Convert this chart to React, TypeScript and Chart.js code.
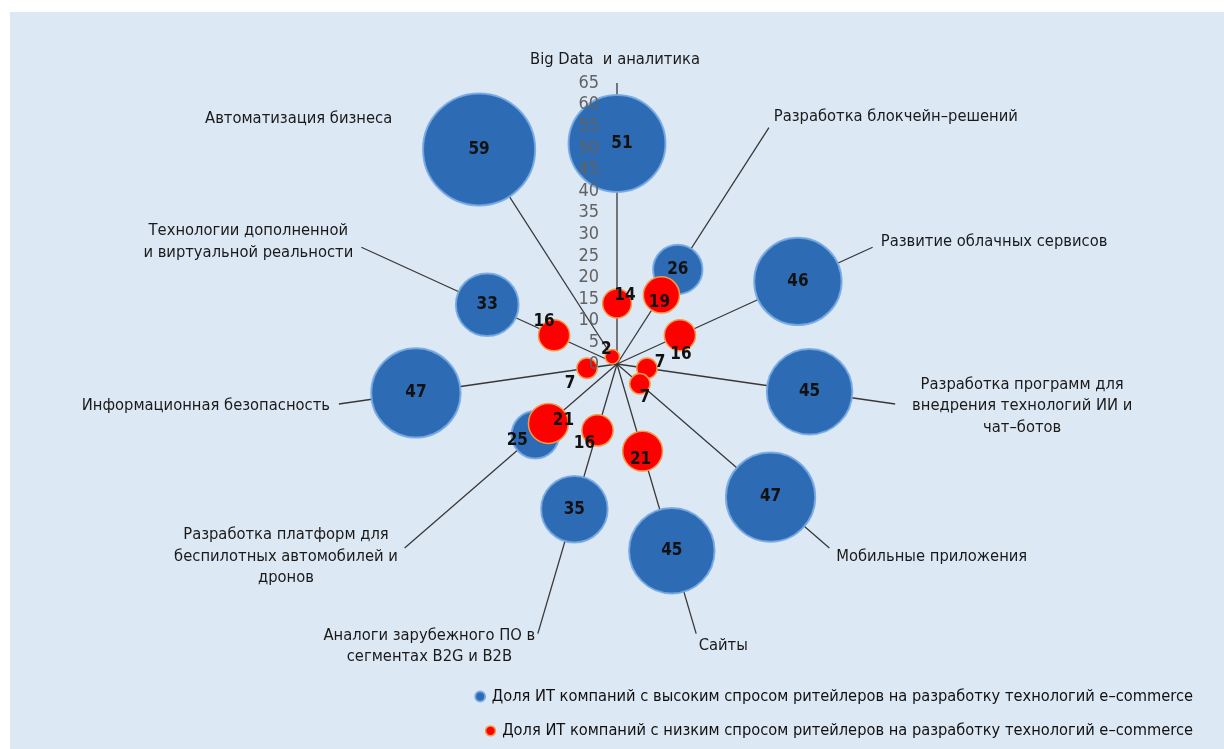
import { useEffect, useRef } from 'react';
import { Chart, registerables } from 'chart.js';

Chart.register(...registerables);

// Categories, clockwise from the top spoke
const CATEGORIES: string[][] = [
  ['Big Data  и аналитика'],
  ['Разработка блокчейн–решений'],
  ['Развитие облачных сервисов'],
  ['Разработка программ для', 'внедрения технологий ИИ и', 'чат–ботов'],
  ['Мобильные приложения'],
  ['Сайты'],
  ['Аналоги зарубежного ПО в', 'сегментах B2G и B2B'],
  ['Разработка платформ для', 'беспилотных автомобилей и', 'дронов'],
  ['Информационная безопасность'],
  ['Технологии дополненной', 'и виртуальной реальности'],
  ['Автоматизация бизнеса'],
];

const HIGH_DEMAND = [51, 26, 46, 45, 47, 45, 35, 25, 47, 33, 59];
const LOW_DEMAND = [14, 19, 16, 7, 7, 21, 16, 21, 7, 16, 2];

const SERIES_NAMES = [
  'Доля ИТ компаний с высоким спросом ритейлеров на разработку технологий e–commerce',
  'Доля ИТ компаний с низким спросом ритейлеров на разработку технологий e–commerce',
];

const AXIS_MIN = 0;
const AXIS_MAX = 65;
const AXIS_STEP = 5;

// Styling
const FONT = "'Liberation Sans Narrow', 'Arial Narrow', 'DejaVu Sans Condensed', sans-serif";
const BLUE = '#2d6cb5';
const BLUE_EDGE = 'rgba(118, 168, 226, 0.9)';
const RED = '#ff0000';
const RED_EDGE = '#f29a48';

// value-label offsets (px) per series and category
const HIGH_LABEL_SHIFT: [number, number][] = [
  [5, 0], [0, 0], [0, 0], [0, 0], [0, 0], [0, 0], [0, 0], [-18, 6], [0, 0], [0, 0], [0, 0],
];
const LOW_LABEL_SHIFT: [number, number][] = [
  [8, -8], [-2, 8], [1, 19], [13, -6], [5, 14], [-2, 8], [-13, 13], [15, -3], [-17, 15], [-10, -14], [-6, -7],
];
// extra nudges for the category captions (px)
const CAPTION_NUDGE: [number, number][] = [
  [-2, -10], [0, 0], [0, 0], [8, 0], [0, 0], [0, 0], [0, 0], [0, 0], [0, 0], [0, 0], [-68, 2],
];

const bubbleRadius = (v: number) => Math.max(v * 0.95, 6 + v * 0.6);

const tickLabelsPlugin = {
  id: 'axisTickLabels',
  afterDatasetsDraw(chart: any) {
    const scale = chart.scales.r;
    const ctx = chart.ctx;
    ctx.save();
    ctx.font = `18px ${FONT}`;
    ctx.fillStyle = '#626262';
    ctx.textAlign = 'right';
    ctx.textBaseline = 'middle';
    scale.ticks.forEach((t: any) => {
      const p = scale.getPointPosition(0, scale.getDistanceFromCenterForValue(t.value));
      ctx.fillText(String(t.value), p.x - 18, p.y);
    });
    ctx.restore();
  },
};

const valueLabelsPlugin = {
  id: 'bubbleValueLabels',
  afterDatasetsDraw(chart: any) {
    const ctx = chart.ctx;
    const shifts = [HIGH_LABEL_SHIFT, LOW_LABEL_SHIFT];
    ctx.save();
    ctx.font = `bold 17px ${FONT}`;
    ctx.fillStyle = '#111111';
    ctx.textAlign = 'center';
    ctx.textBaseline = 'middle';
    chart.data.datasets.forEach((ds: any, di: number) => {
      const meta = chart.getDatasetMeta(di);
      meta.data.forEach((pt: any, i: number) => {
        const [dx, dy] = shifts[di][i];
        ctx.fillText(String(ds.data[i]), pt.x + dx, pt.y + dy);
      });
    });
    ctx.restore();
  },
};

const captionsPlugin = {
  id: 'categoryCaptions',
  afterDraw(chart: any) {
    const scale = chart.scales.r;
    const ctx = chart.ctx;
    const outer = scale.getDistanceFromCenterForValue(scale.max);
    const lineH = 21.5;
    ctx.save();
    ctx.font = `16.4px ${FONT}`;
    ctx.fillStyle = '#1a1a1a';
    ctx.textAlign = 'center';
    ctx.textBaseline = 'middle';
    CATEGORIES.forEach((lines, i) => {
      const p = scale.getPointPosition(i, outer);
      const a = scale.getIndexAngle(i);
      const s = Math.sin(a);
      const c = Math.cos(a);
      const [nx, ny] = CAPTION_NUDGE[i];
      const w = Math.max(...lines.map((l) => ctx.measureText(l).width));
      const h = lines.length * lineH;
      const ax = p.x + s * 9 + nx;
      const cy = p.y - c * 13 + ny;
      let cx = ax;
      if (s > 1e-6) cx = ax + w / 2;
      else if (s < -1e-6) cx = ax - w / 2;
      lines.forEach((l, k) => ctx.fillText(l, cx, cy - h / 2 + lineH * (k + 0.5)));
    });
    ctx.restore();
  },
};

export default function App() {
  const canvasRef = useRef<HTMLCanvasElement | null>(null);

  useEffect(() => {
    if (!canvasRef.current) return;
    const chart = new Chart(canvasRef.current, {
      type: 'radar',
      data: {
        labels: CATEGORIES,
        datasets: [
          {
            label: SERIES_NAMES[0],
            data: HIGH_DEMAND,
            showLine: false,
            fill: false,
            backgroundColor: BLUE,
            borderColor: BLUE,
            pointBackgroundColor: BLUE,
            pointBorderColor: BLUE_EDGE,
            pointBorderWidth: 2,
            pointRadius: (c: any) => bubbleRadius(c.raw ?? 0),
            pointHoverRadius: (c: any) => bubbleRadius(c.raw ?? 0),
            order: 2,
          },
          {
            label: SERIES_NAMES[1],
            data: LOW_DEMAND,
            showLine: false,
            fill: false,
            backgroundColor: RED,
            borderColor: RED,
            pointBackgroundColor: RED,
            pointBorderColor: RED_EDGE,
            pointBorderWidth: 1.5,
            pointRadius: (c: any) => bubbleRadius(c.raw ?? 0),
            pointHoverRadius: (c: any) => bubbleRadius(c.raw ?? 0),
            order: 1,
          },
        ],
      } as any,
      options: {
        responsive: false,
        animation: false,
        devicePixelRatio: 1,
        events: [],
        layout: { padding: { top: 71, left: 13, right: 13, bottom: 0 } },
        scales: {
          r: {
            min: AXIS_MIN,
            max: AXIS_MAX,
            startAngle: 0,
            ticks: { display: false, stepSize: AXIS_STEP },
            grid: { display: false },
            angleLines: { display: true, color: '#383838', lineWidth: 1.3 },
            pointLabels: { display: false },
          },
        },
        plugins: {
          tooltip: { enabled: false },
          legend: {
            display: true,
            position: 'bottom',
            align: 'end',
            title: { display: true, text: '', padding: 0, font: { size: 20 } },
            labels: {
              usePointStyle: true,
              pointStyle: 'circle',
              boxWidth: 7,
              boxHeight: 7,
              padding: 18,
              color: '#111111',
              font: { family: FONT, size: 16.3 },
              sort: (a: any, b: any) => a.datasetIndex - b.datasetIndex,
            },
          },
        },
      } as any,
      plugins: [tickLabelsPlugin, valueLabelsPlugin, captionsPlugin],
    });
    return () => chart.destroy();
  }, []);

  return (
    <div
      style={{
        position: 'fixed',
        left: 10,
        top: 12,
        width: 1214,
        height: 737,
        background: '#dde8f5',
      }}
    >
      <canvas ref={canvasRef} width={1214} height={737} style={{ display: 'block' }} />
    </div>
  );
}
